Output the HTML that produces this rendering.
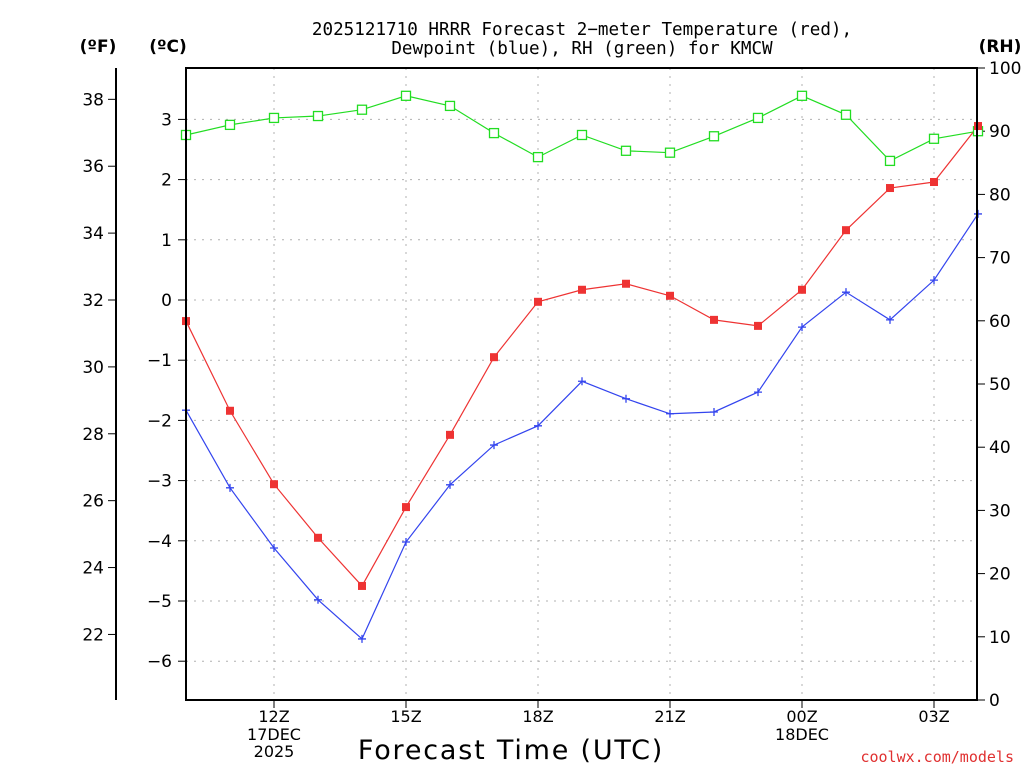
<!DOCTYPE html>
<html><head><meta charset="utf-8"><style>
body{margin:0;background:#fff;}
svg{display:block;font-family:"DejaVu Sans","Liberation Sans",sans-serif;}
</style></head><body>
<svg id="chart" width="1024" height="768">
<g font-family="DejaVu Sans Mono, Liberation Mono, monospace" font-size="17.6" text-anchor="middle" fill="#000">
<text x="582" y="35">2025121710 HRRR Forecast 2−meter Temperature (red),</text>
<text x="582" y="54">Dewpoint (blue), RH (green) for KMCW</text>
</g>
<text x="98" y="52" font-size="17" font-weight="bold" text-anchor="middle">(ºF)</text>
<text x="168" y="52" font-size="17" font-weight="bold" text-anchor="middle">(ºC)</text>
<text x="1000" y="52" font-size="17" font-weight="bold" text-anchor="middle">(RH)</text>
<g id="grid"></g>
<g id="axes"></g>
<g id="series"></g>
<rect x="186" y="68" width="791" height="632" fill="none" stroke="#000" stroke-width="2"/>
<text x="511" y="759" font-size="27" letter-spacing="1.8" text-anchor="middle">Forecast Time (UTC)</text>
<text x="1014" y="762" font-size="15" text-anchor="end" fill="#e03030" font-family="DejaVu Sans Mono, Liberation Mono, monospace">coolwx.com/models</text>
</svg>
<script>
const hours=[10,11,12,13,14,15,16,17,18,19,20,21,22,23,24,25,26,27,28];
const tempC=[-0.35,-1.84,-3.06,-3.95,-4.75,-3.44,-2.24,-0.95,-0.03,0.17,0.27,0.07,-0.33,-0.43,0.17,1.16,1.86,1.96,2.89];
const dewC=[-1.83,-3.12,-4.12,-4.98,-5.63,-4.02,-3.07,-2.41,-2.09,-1.35,-1.64,-1.89,-1.86,-1.53,-0.45,0.13,-0.33,0.33,1.43];
const rh=[89.4,91.0,92.1,92.4,93.4,95.6,94.0,89.7,85.9,89.4,86.9,86.6,89.2,92.1,95.6,92.6,85.3,88.8,90.0];
const cTicks=[3,2,1,0,-1,-2,-3,-4,-5,-6];
const fTicks=[38,36,34,32,30,28,26,24,22];
const rhTicks=[0,10,20,30,40,50,60,70,80,90,100];
const xTickHours=[12,15,18,21,24,27];
const xTickLabels=["12Z","15Z","18Z","21Z","00Z","03Z"];
const ns="http://www.w3.org/2000/svg";
const X=h=>186+(h-10)*44;
const YC=c=>300-c*60.2;
const YF=f=>YC((f-32)/1.8);
const YR=r=>700-r*6.32;
function mk(tag,attrs,parent,txt){const e=document.createElementNS(ns,tag);for(const k in attrs)e.setAttribute(k,attrs[k]);if(txt!==undefined)e.textContent=txt;parent.appendChild(e);return e;}
const grid=document.getElementById('grid'),axes=document.getElementById('axes'),series=document.getElementById('series');
cTicks.forEach(c=>{
 const l=mk('line',{x1:186,x2:977,y1:YC(c),y2:YC(c),stroke:'#b0b0b0','stroke-dasharray':'2,6'},grid);
 
 
 const t=mk('line',{x1:178,x2:186,y1:YC(c),y2:YC(c),stroke:'#000'},axes);
 
 
 const tx=mk('text',{x:172,y:YC(c)+6,'font-size':17,'text-anchor':'end'},axes,c<0?'−'+(-c):String(c));
 
 
});
mk('line',{x1:116,x2:116,y1:68,y2:700,stroke:'#000','stroke-width':2},axes);
fTicks.forEach(f=>{
 const t=mk('line',{x1:108,x2:116,y1:YF(f),y2:YF(f),stroke:'#000'},axes);
 
 
 const tx=mk('text',{x:104,y:YF(f)+6,'font-size':17,'text-anchor':'end'},axes,String(f));
 
 
});
rhTicks.forEach(r=>{
 const t=mk('line',{x1:977,x2:985,y1:YR(r),y2:YR(r),stroke:'#000'},axes);
 
 
 const tx=mk('text',{x:989,y:YR(r)+6,'font-size':17},axes,String(r));
 
 
});
xTickHours.forEach((h,i)=>{
 const l=mk('line',{x1:X(h),x2:X(h),y1:68,y2:700,stroke:'#b0b0b0','stroke-dasharray':'2,6'},grid);
 
 
 const t=mk('line',{x1:X(h),x2:X(h),y1:700,y2:708,stroke:'#000'},axes);
 
 
 const tx=mk('text',{x:X(h),y:722,'font-size':16,'text-anchor':'middle'},axes,xTickLabels[i]);
 
 
});
[["17DEC",X(12),740],["2025",X(12),757],["18DEC",X(24),740]].forEach(d=>{
 const tx=mk('text',{x:d[1],y:d[2],'font-size':16,'text-anchor':'middle'},axes,d[0]);
 
 
});
function line(vals,yf,color,name){
 const pts=vals.map((v,i)=>X(hours[i])+','+yf(v)).join(' ');
 const p=mk('polyline',{points:pts,fill:'none',stroke:color,'stroke-width':1.2},series);
 
 
}
line(rh,YR,'#22dd22','rh');
line(tempC,YC,'#ee3333','temperature');
line(dewC,YC,'#3344ee','dewpoint');
rh.forEach((v,i)=>{const m=mk('rect',{x:X(hours[i])-4.5,y:YR(v)-4.5,width:9,height:9,fill:'#fff',stroke:'#22dd22','stroke-width':1.3},series);
 
 });
tempC.forEach((v,i)=>{const m=mk('rect',{x:X(hours[i])-4,y:YC(v)-4,width:8,height:8,fill:'#ee3333'},series);
 
 });
dewC.forEach((v,i)=>{const m=mk('path',{d:`M${X(hours[i])-4},${YC(v)}h8M${X(hours[i])},${YC(v)-4}v8`,stroke:'#3344ee','stroke-width':1.3},series);
 
 });
</script>
</body></html>
